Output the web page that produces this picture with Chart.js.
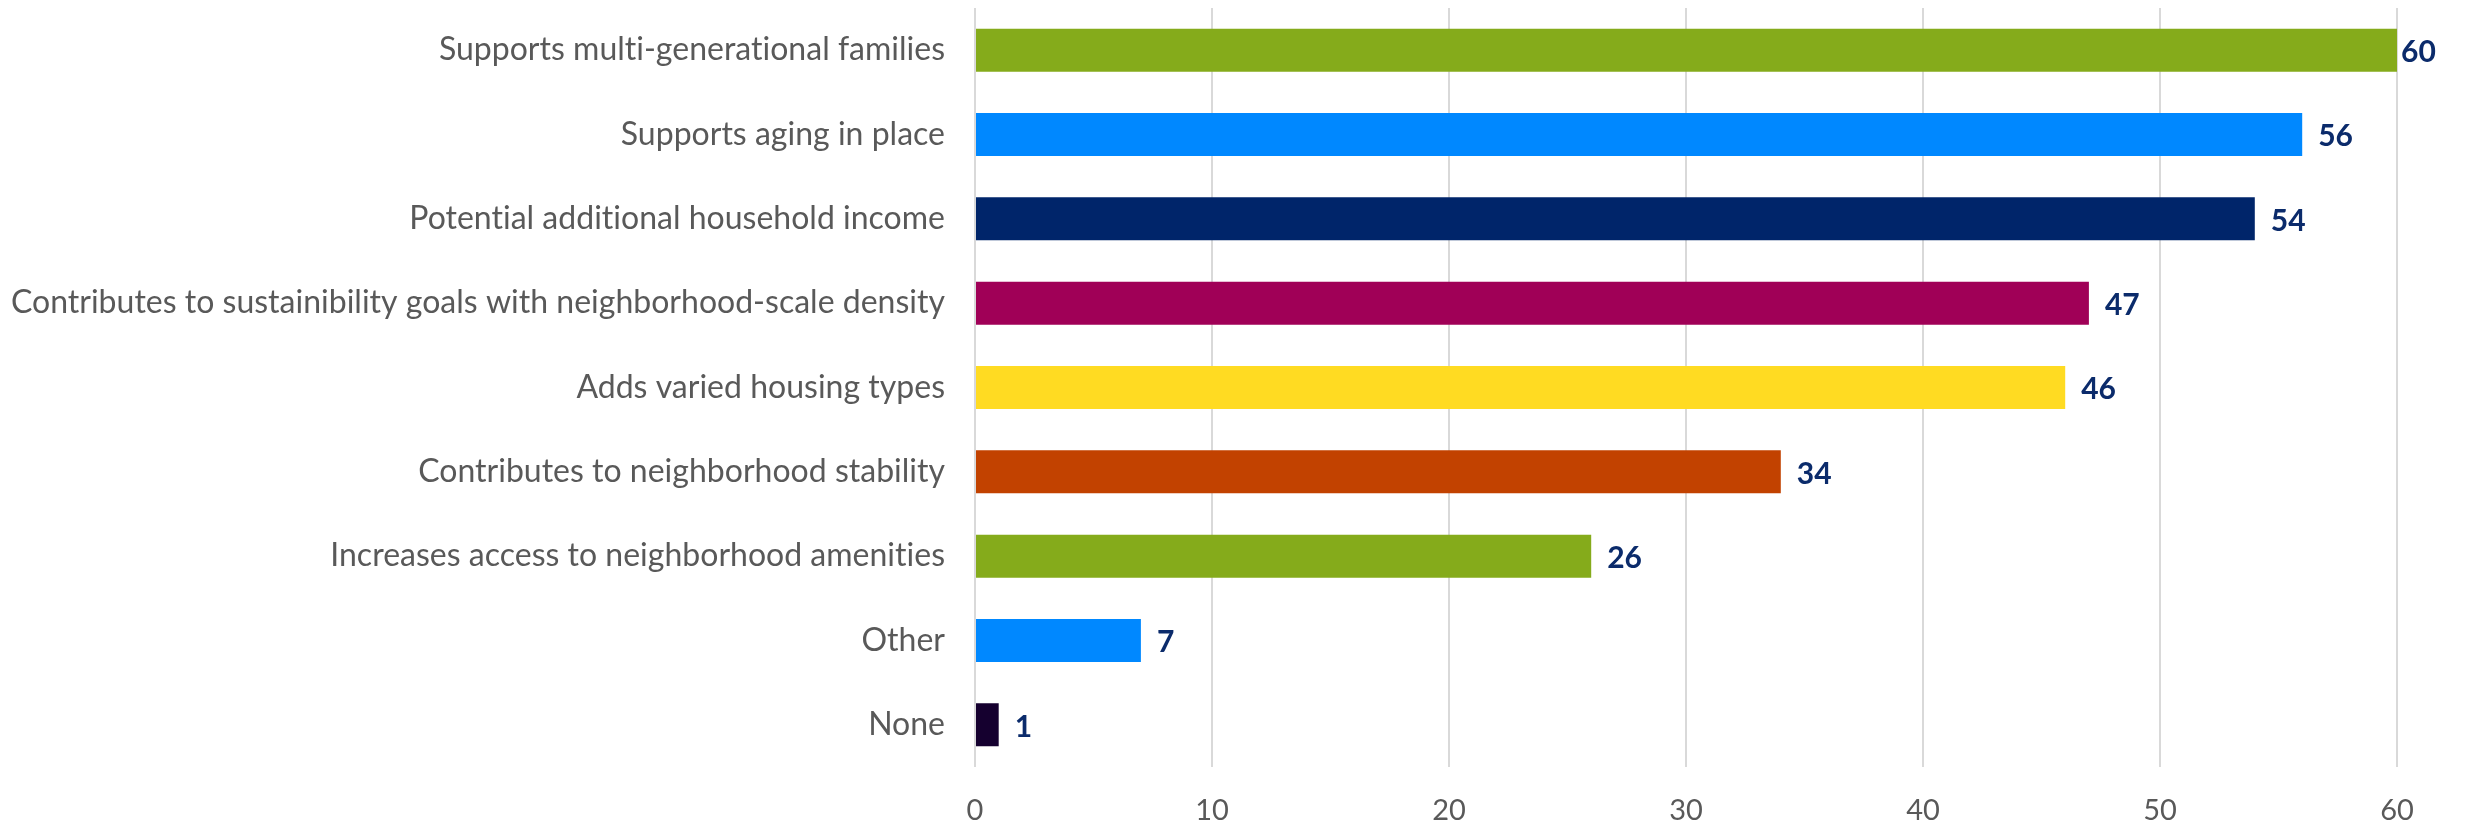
<!DOCTYPE html>
<html>
<head>
<meta charset="utf-8">
<script src="https://cdn.jsdelivr.net/npm/chart.js@4/dist/chart.umd.min.js"></script>
<style>
  html, body { margin: 0; padding: 0; background: #fff; }
  #wrap { width: 2469px; height: 824px; }
</style>
</head>
<body>
<div id="wrap"><canvas id="benefits"></canvas></div>
<script>
var categories = [
    'Supports multi-generational families',
    'Supports aging in place',
    'Potential additional household income',
    'Contributes to sustainibility goals with neighborhood-scale density',
    'Adds varied housing types',
    'Contributes to neighborhood stability',
    'Increases access to neighborhood amenities',
    'Other',
    'None'
];
var counts = [60, 56, 54, 47, 46, 34, 26, 7, 1];
var barColors = ['#85AB1B', '#0088FF', '#00256A', '#A00057', '#FFDB22', '#C24200', '#85AB1B', '#0088FF', '#15002F'];
var xTicks = [0, 10, 20, 30, 40, 50, 60];

// Lato turns "ti" into a ligature; a tiny letter spacing keeps the letters apart
var noLigatures = {
    id: 'noLigatures',
    beforeDraw: function (chart) {
        chart.ctx.letterSpacing = '0.01px';
    }
};

// writes the count just past the end of each bar
var valueLabels = {
    id: 'valueLabels',
    afterDatasetsDraw: function (chart) {
        var ctx = chart.ctx;
        var meta = chart.getDatasetMeta(0);
        ctx.save();
        ctx.font = 'bold 30px Lato';
        ctx.fillStyle = '#0B2B6B';
        ctx.textBaseline = 'middle';
        ctx.textAlign = 'left';
        meta.data.forEach(function (bar, i) {
            var gap = counts[i] >= 60 ? 4 : 16;
            ctx.fillText(String(counts[i]), bar.x + gap, bar.y + 2);
        });
        ctx.restore();
    }
};

var ctx = document.getElementById('benefits').getContext('2d');
var chart = new Chart(ctx, {
    type: 'bar',
    data: {
        labels: categories,
        datasets: [{
            data: counts,
            backgroundColor: barColors,
            borderWidth: 0,
            categoryPercentage: 1,
            barPercentage: 0.51
        }]
    },
    options: {
        indexAxis: 'y',
        responsive: true,
        maintainAspectRatio: false,
        animation: false,
        layout: { padding: { top: 8, right: 72, left: 0, bottom: 0 } },
        plugins: {
            legend: { display: false },
            tooltip: { enabled: false }
        },
        scales: {
            x: {
                min: 0,
                max: 60,
                afterBuildTicks: function (axis) {
                    axis.ticks = xTicks.map(function (v) { return { value: v }; });
                },
                afterFit: function (axis) {
                    axis.height = 57;
                    axis.paddingLeft = 0;
                    axis.paddingRight = 0;
                },
                grid: { color: '#D9D9D9', lineWidth: 2, drawTicks: false },
                border: { display: false },
                ticks: {
                    color: '#595959',
                    font: { family: 'Lato', size: 29 },
                    padding: 26
                }
            },
            y: {
                afterFit: function (axis) {
                    axis.width = 975;
                    axis.paddingTop = 0;
                    axis.paddingBottom = 0;
                },
                grid: { display: false },
                border: { display: false },
                ticks: {
                    color: '#595959',
                    font: { family: 'Lato', size: 32 },
                    padding: 22,
                    autoSkip: false
                }
            }
        }
    },
    plugins: [noLigatures, valueLabels]
});
</script>
</body>
</html>
